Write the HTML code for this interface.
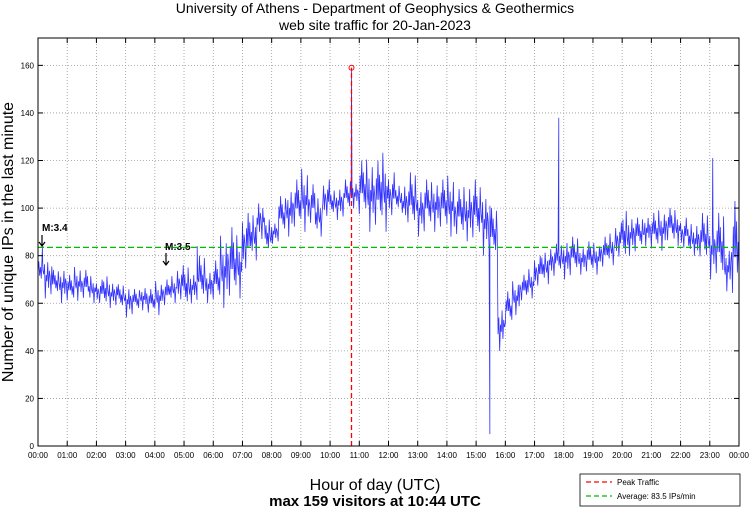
<!DOCTYPE html>
<html><head><meta charset="utf-8"><style>
html,body{margin:0;padding:0;background:#fff;}
svg{display:block;font-family:"Liberation Sans",sans-serif;}
</style></head><body>
<svg id="chart" width="750" height="511" viewBox="0 0 750 511">
<text x="375" y="13" text-anchor="middle" font-size="14">University of Athens - Department of Geophysics &amp; Geothermics</text>
<text x="375" y="30" text-anchor="middle" font-size="14">web site traffic for 20-Jan-2023</text>
<g id="grid"></g>
<g id="series"></g>
<g id="refs"></g>
<rect x="38" y="38" width="701" height="408" fill="none" stroke="#000" stroke-width="1"/>
<g id="axes"></g>
<text transform="translate(13,242) rotate(-90)" text-anchor="middle" font-size="16">Number of unique IPs in the last minute</text>
<text x="375" y="490" text-anchor="middle" font-size="16">Hour of day (UTC)</text>
<text x="375" y="506" text-anchor="middle" font-size="15" font-weight="bold">max 159 visitors at 10:44 UTC</text>
<g>
<rect x="580" y="474" width="160" height="32" fill="#fff" stroke="#000" stroke-width="0.8"/>
<line x1="586" y1="482" x2="612" y2="482" stroke="#f00" stroke-width="1.3" stroke-dasharray="5,3"/>
<text x="617" y="485" font-size="8">Peak Traffic</text>
<line x1="586" y1="496" x2="612" y2="496" stroke="#0b0" stroke-width="1.3" stroke-dasharray="5,3"/>
<text x="617" y="499" font-size="8">Average: 83.5 IPs/min</text>
</g>
<g>
<text x="42" y="231" font-size="10" font-weight="bold">M:3.4</text>
<g stroke="#000" stroke-width="1.2" fill="none">
<line x1="42" y1="235" x2="42" y2="246"/><polyline points="39,242 42,246 45,242"/></g>
<text x="165" y="250" font-size="10" font-weight="bold">M:3.5</text>
<g stroke="#000" stroke-width="1.2" fill="none">
<line x1="166" y1="253" x2="166" y2="265"/><polyline points="163,261 166,265 169,261"/></g>
</g>
</svg>
<script>
// 15-minute bins (96): low and high envelope of IPs/min
const binLow = [68,62,63,60, 60,61,61,60, 59,58,58,57, 54,56,57,55, 55,58,60,60, 57,60,60,60,
 60,58,60,62, 72,78,85,80, 85,88,88,90, 90,92,88,95, 96,95,98,100, 95,90,90,90,
 95,98,92,90, 88,90,90,90, 88,87,86,85, 85,80,78,40, 50,55,60,62, 66,68,70,72,
 70,72,72,72, 72,74,76,78, 76,80,82,84, 82,82,85,84, 82,80,78,76, 70,68,65,60];
const binHigh = [80,80,74,76, 72,76,74,72, 70,72,70,68, 68,66,68,66, 70,70,72,76, 76,74,80,75,
 78,90,92,90, 98,98,105,96, 95,105,110,112, 118,110,105,112, 108,110,112,112, 120,122,120,125,
 115,110,112,115, 110,112,113,112, 115,108,110,112, 110,108,100,60, 65,70,72,75, 80,82,85,85,
 88,88,85,86, 86,88,90,94, 100,98,96,98, 98,100,100,100, 96,94,95,98, 96,98,85,103];
// isolated spikes: hour of day and value
const spikeHours = [10.733, 17.83, 23.1, 15.47, 0.15, 5.45];
const spikeValues = [159, 138, 121, 5, 84, 84];
const yTicks = [0,20,40,60,80,100,120,140,160];
const xTickLabels = ["00:00","01:00","02:00","03:00","04:00","05:00","06:00","07:00","08:00","09:00","10:00","11:00","12:00","13:00","14:00","15:00","16:00","17:00","18:00","19:00","20:00","21:00","22:00","23:00","00:00"];
const avgValue = 83.5;
const peakHour = 10.733;
const peakValue = 159;

const X0=38,X1=739,Y0=446,YTOP=38,YMAX=171.5;
const xs=h=>X0+(X1-X0)*h/24;
const ys=v=>Y0-(Y0-YTOP)*v/YMAX;
const NS="http://www.w3.org/2000/svg";
function mk(tag,attrs,parent){const e=document.createElementNS(NS,tag);for(const k in attrs)e.setAttribute(k,attrs[k]);parent.appendChild(e);return e;}
const grid=document.getElementById('grid'),axes=document.getElementById('axes'),series=document.getElementById('series'),refs=document.getElementById('refs');

yTicks.forEach(v=>{
  const y=ys(v);
  if(v>0){const g=mk('line',{x1:X0,x2:X1,y1:y,y2:y,stroke:'#999','stroke-width':0.8,'stroke-dasharray':'1,2'},grid);
  
  }
  mk('line',{x1:X0,x2:X0+5,y1:y,y2:y,stroke:'#000'},axes);
  mk('line',{x1:X1,x2:X1-5,y1:y,y2:y,stroke:'#000'},axes);
  const t=mk('text',{x:X0-4,y:y+3,'font-size':8,'text-anchor':'end'},axes);
  t.textContent=v;
  
  
});
xTickLabels.forEach((lab,i)=>{
  const x=xs(i);
  if(i>0&&i<24){const g=mk('line',{x1:x,x2:x,y1:YTOP,y2:Y0,stroke:'#999','stroke-width':0.8,'stroke-dasharray':'1,2'},grid);
  
  }
  mk('line',{x1:x,x2:x,y1:Y0,y2:Y0-5,stroke:'#000'},axes);
  mk('line',{x1:x,x2:x,y1:YTOP,y2:YTOP+5,stroke:'#000'},axes);
  const t=mk('text',{x:x,y:Y0+12,'font-size':8,'text-anchor':'middle'},axes);
  t.textContent=lab;
  
  
});

// series: irregular zigzag within each bin's envelope
const pattern=[0.45,0.8,0.3,0.6,0.2,0.95,0.5,0.35,0.7,0.0,0.55,0.4,0.85,0.25,0.65,0.5,0.1,0.75,0.45,1.0];
let pts=[];
const nb=binLow.length;
let pi=0;
for(let b=0;b<nb;b++){
  const n=9;
  for(let k=0;k<n;k++){
    const h=(b+k/n)*24/nb;
    const v=binLow[b]+(binHigh[b]-binLow[b])*pattern[pi%pattern.length];
    pi++;
    pts.push([h,v]);
  }
}
spikeHours.forEach((h,i)=>{
  let idx=pts.findIndex(p=>p[0]>=h);
  if(idx<0)idx=pts.length-1;
  pts.splice(idx,0,[h,spikeValues[i]]);
});
pts.push([24,binHigh[nb-1]*0.7]);
const line=mk('polyline',{points:pts.map(p=>xs(p[0]).toFixed(2)+','+ys(p[1]).toFixed(2)).join(' '),fill:'none',stroke:'#0000ff','stroke-width':0.8,'stroke-opacity':0.8},series);



const avg=mk('line',{x1:X0,x2:X1,y1:ys(avgValue),y2:ys(avgValue),stroke:'#0b0','stroke-width':1.3,'stroke-dasharray':'6,3'},refs);


const pk=mk('line',{x1:xs(peakHour),x2:xs(peakHour),y1:Y0,y2:ys(peakValue),stroke:'#f00','stroke-width':1.3,'stroke-dasharray':'5,3'},refs);


const pm=mk('circle',{cx:xs(peakHour),cy:ys(peakValue),r:2.5,fill:'none',stroke:'#f00','stroke-width':1},refs);


</script>
</body></html>
